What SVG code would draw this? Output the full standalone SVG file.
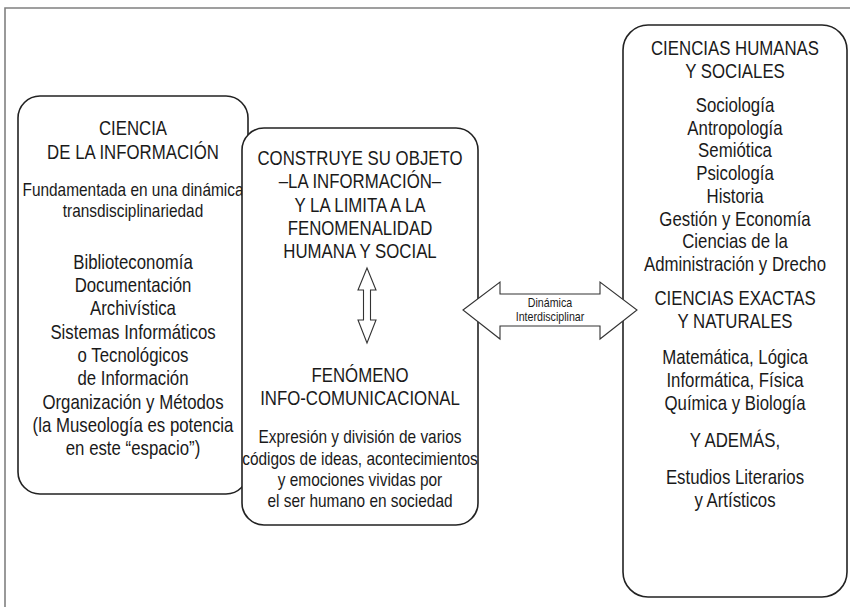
<svg xmlns="http://www.w3.org/2000/svg" width="850" height="607" viewBox="0 0 850 607">
<style>
.box{fill:#fff;stroke:#222;stroke-width:1.6}
.arr{fill:#fff;stroke:#333;stroke-width:1.1}
text{font-family:"Liberation Sans",Arial,sans-serif;fill:#1a1a1a;text-anchor:middle}
.t17{font-size:20.5px}
.t15{font-size:18.8px}
.t11{font-size:13px}
</style>
<rect width="850" height="607" fill="#fff"/>
<path d="M5,607 V8 H850" fill="none" stroke="#808080" stroke-width="1.6"/>
<g id="ciencia-informacion">
<rect class="box" x="18" y="96" width="230" height="398" rx="22"/>
<g transform="translate(133 0) scale(0.82 1)">
<text class="t17" x="0" y="135.5">CIENCIA</text>
<text class="t17" x="0" y="159.5">DE LA INFORMACIÓN</text>
<text class="t15" x="0" y="196">Fundamentada en una dinámica</text>
<text class="t15" x="0" y="217">transdisciplinariedad</text>
<text class="t17" x="0" y="269.5">Biblioteconomía</text>
<text class="t17" x="0" y="292.5">Documentación</text>
<text class="t17" x="0" y="315.5">Archivística</text>
<text class="t17" x="0" y="339.5">Sistemas Informáticos</text>
<text class="t17" x="0" y="362.5">o Tecnológicos</text>
<text class="t17" x="0" y="385.5">de Información</text>
<text class="t17" x="0" y="409.5">Organización y Métodos</text>
<text class="t17" x="0" y="432.5">(la Museología es potencia</text>
<text class="t17" x="0" y="455.5">en este “espacio”)</text>
</g>
</g>
<g id="objeto">
<rect class="box" x="242" y="128" width="236" height="397" rx="22"/>
<g transform="translate(360 0) scale(0.82 1)">
<text class="t17" x="0" y="165">CONSTRUYE SU OBJETO</text>
<text class="t17" x="0" y="188.5">–LA INFORMACIÓN–</text>
<text class="t17" x="0" y="212.5">Y LA LIMITA A LA</text>
<text class="t17" x="0" y="235.5">FENOMENALIDAD</text>
<text class="t17" x="0" y="258.5">HUMANA Y SOCIAL</text>
<text class="t17" x="0" y="382.5">FENÓMENO</text>
<text class="t17" x="0" y="405.5">INFO-COMUNICACIONAL</text>
<text class="t15" x="0" y="443">Expresión y división de varios</text>
<text class="t15" x="0" y="465">códigos de ideas, acontecimientos</text>
<text class="t15" x="0" y="486">y emociones vividas por</text>
<text class="t15" x="0" y="507">el ser humano en sociedad</text>
</g>
</g>
<g id="ciencias">
<rect class="box" x="623" y="25" width="224" height="572" rx="25"/>
<g transform="translate(735 0) scale(0.82 1)">
<text class="t17" x="0" y="55.5">CIENCIAS HUMANAS</text>
<text class="t17" x="0" y="78.5">Y SOCIALES</text>
<text class="t17" x="0" y="112.5">Sociología</text>
<text class="t17" x="0" y="135.5">Antropología</text>
<text class="t17" x="0" y="157.5">Semiótica</text>
<text class="t17" x="0" y="180.5">Psicología</text>
<text class="t17" x="0" y="203.5">Historia</text>
<text class="t17" x="0" y="226.5">Gestión y Economía</text>
<text class="t17" x="0" y="248.5">Ciencias de la</text>
<text class="t17" x="0" y="271.5">Administración y Drecho</text>
<text class="t17" x="0" y="305.5">CIENCIAS EXACTAS</text>
<text class="t17" x="0" y="328.5">Y NATURALES</text>
<text class="t17" x="0" y="364.5">Matemática, Lógica</text>
<text class="t17" x="0" y="387.5">Informática, Física</text>
<text class="t17" x="0" y="410.5">Química y Biología</text>
<text class="t17" x="0" y="447.5">Y ADEMÁS,</text>
<text class="t17" x="0" y="484.5">Estudios Literarios</text>
<text class="t17" x="0" y="507.5">y Artísticos</text>
</g>
</g>
<g id="connectors">
<polygon class="arr" points="367,268 376,290 370.5,290 370.5,320 376,320 367,343 358,320 363.5,320 363.5,290 358,290"/>
<polygon class="arr" points="463,310 500,282 500,294 600,294 600,282 637,310 600,339 600,326 500,326 500,339"/>
<g transform="translate(550 0) scale(0.82 1)">
<text class="t11" x="0" y="307">Dinámica</text>
<text class="t11" x="0" y="321">Interdisciplinar</text>
</g>
</g>
</svg>
